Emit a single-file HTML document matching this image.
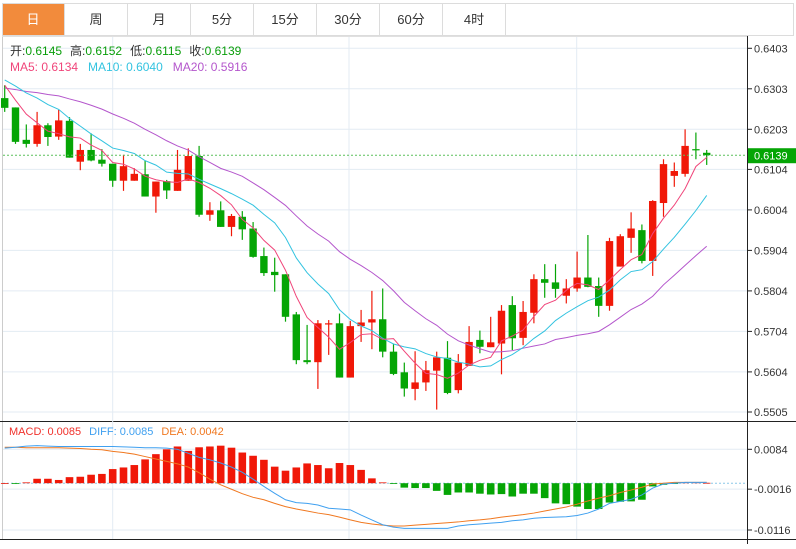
<!DOCTYPE html>
<html><head><meta charset="utf-8"><style>
body{margin:0;background:#fff;width:796px;height:544px;overflow:hidden;font-family:"Liberation Sans","Noto Sans CJK SC",sans-serif}
svg text{font-family:"Liberation Sans","Noto Sans CJK SC",sans-serif}
</style></head><body>
<svg id="c" width="796" height="544" xmlns="http://www.w3.org/2000/svg">
<g>
<rect x="2.5" y="3.5" width="791" height="32" fill="#fff" stroke="#dcdcdc"/>
<rect x="3" y="4" width="61" height="31" fill="#f28b3c"/>
<text x="33" y="24" font-size="13" fill="#fff" text-anchor="middle">日</text>
<text x="96" y="24" font-size="13" fill="#333" text-anchor="middle">周</text>
<text x="159" y="24" font-size="13" fill="#333" text-anchor="middle">月</text>
<text x="222" y="24" font-size="13" fill="#333" text-anchor="middle">5分</text>
<text x="285" y="24" font-size="13" fill="#333" text-anchor="middle">15分</text>
<text x="348" y="24" font-size="13" fill="#333" text-anchor="middle">30分</text>
<text x="411" y="24" font-size="13" fill="#333" text-anchor="middle">60分</text>
<text x="474" y="24" font-size="13" fill="#333" text-anchor="middle">4时</text>
<g stroke="#dcdcdc"><line x1="64.5" y1="4" x2="64.5" y2="35"/><line x1="127.5" y1="4" x2="127.5" y2="35"/><line x1="190.5" y1="4" x2="190.5" y2="35"/><line x1="253.5" y1="4" x2="253.5" y2="35"/><line x1="316.5" y1="4" x2="316.5" y2="35"/><line x1="379.5" y1="4" x2="379.5" y2="35"/><line x1="442.5" y1="4" x2="442.5" y2="35"/><line x1="505.5" y1="4" x2="505.5" y2="35"/></g>
</g>
<g id="grid"></g>
<g id="main"></g>
<g id="macd"></g>
<g font-size="12">
<text x="10" y="55"><tspan fill="#333">开:</tspan><tspan fill="#0a9e0a">0.6145</tspan><tspan fill="#333" dx="8">高:</tspan><tspan fill="#0a9e0a">0.6152</tspan><tspan fill="#333" dx="8">低:</tspan><tspan fill="#0a9e0a">0.6115</tspan><tspan fill="#333" dx="8">收:</tspan><tspan fill="#0a9e0a">0.6139</tspan></text>
<text x="10" y="71"><tspan fill="#f0457a">MA5: 0.6134</tspan><tspan fill="#33c3e0" dx="10">MA10: 0.6040</tspan><tspan fill="#b456cc" dx="10">MA20: 0.5916</tspan></text>
</g>
<g font-size="11">
<text x="9" y="435"><tspan fill="#f0302a">MACD: 0.0085</tspan><tspan fill="#3fa0f0" dx="8">DIFF: 0.0085</tspan><tspan fill="#f07820" dx="8">DEA: 0.0042</tspan></text>
</g>
</svg>
<script>
const prior=[0.6250,0.6260,0.6270,0.6280,0.6290,0.6285,0.6290,0.6300,0.6310,0.6315,0.6325,0.6335,0.6340,0.6345,0.6345,0.6357,0.6340,0.6320,0.6287];
const open=[0.6280,0.6257,0.6177,0.6167,0.6213,0.6185,0.6224,0.6123,0.6152,0.6128,0.6118,0.6076,0.6076,0.6092,0.6037,0.6075,0.6051,0.6076,0.6137,0.5992,0.6003,0.5962,0.5987,0.5958,0.5890,0.5851,0.5845,0.5746,0.5633,0.5628,0.5721,0.5724,0.5590,0.5717,0.5726,0.5734,0.5654,0.5603,0.5562,0.5578,0.5607,0.5639,0.5559,0.5619,0.5683,0.5665,0.5674,0.5769,0.5688,0.5750,0.5833,0.5825,0.5792,0.5810,0.5837,0.5816,0.5767,0.5864,0.5935,0.5954,0.5878,0.6021,0.6088,0.6093,0.6154,0.6145];
const high=[0.6312,0.6257,0.6215,0.6246,0.6218,0.6251,0.6233,0.6167,0.6193,0.6154,0.6118,0.6140,0.6107,0.6125,0.6074,0.6078,0.6152,0.6156,0.6162,0.6023,0.6025,0.5994,0.6001,0.5974,0.5911,0.5886,0.5845,0.5752,0.5720,0.5732,0.5732,0.5748,0.5730,0.5757,0.5804,0.5810,0.5674,0.5627,0.5655,0.5631,0.5654,0.5680,0.5648,0.5717,0.5706,0.5740,0.5769,0.5791,0.5779,0.5845,0.5870,0.5870,0.5833,0.5901,0.5942,0.5837,0.5935,0.5944,0.5998,0.5968,0.6028,0.6129,0.6121,0.6203,0.6195,0.6152];
const low=[0.6246,0.6167,0.6158,0.6160,0.6162,0.6177,0.6133,0.6102,0.6124,0.6111,0.6061,0.6051,0.6076,0.6037,0.5997,0.6031,0.6051,0.6076,0.5987,0.5977,0.5962,0.5939,0.5930,0.5886,0.5841,0.5802,0.5728,0.5623,0.5623,0.5562,0.5646,0.5590,0.5590,0.5678,0.5660,0.5640,0.5596,0.5543,0.5534,0.5557,0.5511,0.5549,0.5551,0.5619,0.5650,0.5665,0.5598,0.5658,0.5670,0.5724,0.5787,0.5787,0.5773,0.5802,0.5813,0.5740,0.5755,0.5864,0.5898,0.5872,0.5841,0.5987,0.6061,0.6086,0.6129,0.6115];
const close=[0.6256,0.6172,0.6167,0.6213,0.6184,0.6225,0.6133,0.6152,0.6126,0.6118,0.6076,0.6112,0.6093,0.6037,0.6074,0.6052,0.6103,0.6137,0.5992,0.6003,0.5962,0.5989,0.5956,0.5888,0.5848,0.5843,0.5740,0.5633,0.5628,0.5724,0.5724,0.5590,0.5717,0.5726,0.5734,0.5654,0.5599,0.5563,0.5578,0.5608,0.5640,0.5552,0.5627,0.5678,0.5666,0.5677,0.5755,0.5687,0.5752,0.5833,0.5824,0.5809,0.5810,0.5837,0.5814,0.5767,0.5927,0.5939,0.5958,0.5878,0.6026,0.6117,0.6100,0.6162,0.6151,0.6139];
const priceTicks=["0.6403","0.6303","0.6203","0.6104","0.6004","0.5904","0.5804","0.5704","0.5604","0.5505"];
const macdHist=[0,-0.0002,0.0002,0.0011,0.0011,0.0008,0.0015,0.0016,0.0021,0.0023,0.0035,0.0039,0.0045,0.0059,0.0072,0.0084,0.0091,0.0080,0.0089,0.0091,0.0093,0.0088,0.0076,0.0068,0.0058,0.0041,0.0031,0.0039,0.0049,0.0045,0.0037,0.0050,0.0045,0.0033,0.0012,0.0002,-0.0002,-0.0011,-0.0012,-0.0012,-0.0019,-0.0029,-0.0023,-0.0023,-0.0026,-0.0028,-0.0027,-0.0033,-0.0026,-0.0026,-0.0037,-0.0050,-0.0052,-0.0058,-0.0064,-0.0064,-0.0048,-0.0046,-0.0045,-0.0041,-0.0008,-0.0004,-0.0002,0.0002,0.0002,0.0001];
const diff=[0.0087,0.0089,0.0092,0.0093,0.0092,0.0091,0.0091,0.0091,0.0091,0.0091,0.0091,0.0090,0.0089,0.0088,0.0088,0.0087,0.0084,0.0074,0.0064,0.0058,0.0050,0.0040,0.0027,0.0010,-0.0008,-0.0025,-0.0041,-0.0048,-0.0050,-0.0054,-0.0062,-0.0064,-0.0066,-0.0079,-0.0091,-0.0103,-0.0109,-0.0112,-0.0112,-0.0112,-0.0112,-0.0112,-0.0106,-0.0103,-0.0101,-0.0099,-0.0097,-0.0093,-0.0091,-0.0087,-0.0085,-0.0084,-0.0083,-0.0080,-0.0074,-0.0064,-0.0050,-0.0045,-0.0040,-0.0029,-0.0012,-0.0002,0,0.0002,0.0002,0.0002];
const dea=[0.0089,0.0089,0.0088,0.0088,0.0088,0.0088,0.0087,0.0086,0.0084,0.0083,0.0079,0.0076,0.0072,0.0066,0.0060,0.0054,0.0048,0.0040,0.0026,0.0010,-0.0004,-0.0015,-0.0026,-0.0035,-0.0041,-0.0050,-0.0058,-0.0064,-0.0069,-0.0074,-0.0078,-0.0084,-0.0091,-0.0097,-0.0101,-0.0104,-0.0106,-0.0106,-0.0104,-0.0102,-0.0100,-0.0098,-0.0096,-0.0093,-0.0091,-0.0088,-0.0084,-0.0081,-0.0078,-0.0074,-0.0069,-0.0064,-0.0059,-0.0052,-0.0044,-0.0037,-0.0031,-0.0023,-0.0017,-0.0010,-0.0002,0,0.0002,0.0002,0.0002,0.0002];
const macdTicks=["0.0084","-0.0016","-0.0116"];

const NS="http://www.w3.org/2000/svg";
function mk(tag,attrs,parent){const e=document.createElementNS(NS,tag);for(const k in attrs)e.setAttribute(k,attrs[k]);parent.appendChild(e);return e;}
const xOf=i=>4.7+10.8*i;
const yP=v=>129.3+(0.6203-v)*4050;
const yM=v=>483.2-v*4035;
const RED="#f01808",GREEN="#05a505";
const grid=document.getElementById('grid'),main=document.getElementById('main'),mp=document.getElementById('macd');

// frame
let fr=mk('line',{x1:747.5,y1:36,x2:747.5,y2:544,stroke:'#222'},grid);


let l1=mk('line',{x1:2.5,y1:36,x2:2.5,y2:540,stroke:'#ccc'},grid);


let tb=mk('line',{x1:2,y1:36.5,x2:747,y2:36.5,stroke:'#e0e0e0'},grid);


let sep=mk('line',{x1:0,y1:421.5,x2:796,y2:421.5,stroke:'#222'},grid);


let bot=mk('line',{x1:0,y1:539.5,x2:796,y2:539.5,stroke:'#222'},grid);


[112.7,349,576.7].forEach(x=>{
 const g=mk('line',{x1:x,y1:37,x2:x,y2:539,stroke:'#e3ebf3'},grid);
 
 
});
priceTicks.forEach(t=>{
 const y=yP(parseFloat(t));
 const g=mk('line',{x1:3,y1:y,x2:747,y2:y,stroke:'#e3ebf3'},grid);
 
 
 mk('line',{x1:748,y1:y,x2:752,y2:y,stroke:'#222'},grid);
 const tx=mk('text',{x:754,y:y+4,'font-size':11,fill:'#333'},grid);
 tx.textContent=t;
 
 
});
macdTicks.forEach(t=>{
 const v=parseFloat(t);const y=(t==="-0.0016")?yM(v)-0.5:yM(v);
 const g=mk('line',{x1:3,y1:y,x2:747,y2:y,stroke:'#e3ebf3'},grid);
 
 
 mk('line',{x1:748,y1:y,x2:752,y2:y,stroke:'#222'},grid);
 const tx=mk('text',{x:754,y:y+4,'font-size':11,fill:'#333'},grid);
 tx.textContent=t;
 
 
});

// candles
for(let i=0;i<close.length;i++){
 const up=close[i]>=open[i];const col=up?RED:GREEN;const x=xOf(i);
 const g=mk('g',{},main);
 
 
 mk('line',{x1:x,y1:yP(high[i]),x2:x,y2:yP(low[i]),stroke:col,'stroke-width':1.2},g);
 const t=yP(Math.max(open[i],close[i])),b=yP(Math.min(open[i],close[i]));
 mk('rect',{x:x-3.7,y:t,width:7.4,height:Math.max(1.2,b-t),fill:col},g);
}
// MAs
const all=prior.concat(close);
function ma(n){const r=[];for(let i=0;i<close.length;i++){let s=0;const j=i+prior.length;for(let k=0;k<n;k++)s+=all[j-k];r.push(s/n);}return r;}
[[20,'#b456cc','ma20-line'],[10,'#33c3e0','ma10-line'],[5,'#f0457a','ma5-line']].forEach(([n,c,nm])=>{
 const m=ma(n);const pts=m.map((v,i)=>xOf(i)+','+yP(v)).join(' ');
 const p=mk('polyline',{points:pts,fill:'none',stroke:c,'stroke-width':1},main);
 
 
});
// last price
const lastC=close[close.length-1];const ly=yP(lastC);
const dl=mk('line',{x1:3,y1:ly,x2:747,y2:ly,stroke:'#5cc05c','stroke-dasharray':'2,2'},main);


const lb=mk('rect',{x:748,y:ly-7,width:48,height:15,fill:'#05a505'},main);


const lt=mk('text',{x:754,y:ly+4.5,'font-size':11,fill:'#fff'},main);
lt.textContent=lastC.toFixed(4);



// MACD
const z=mk('line',{x1:3,y1:yM(0),x2:747,y2:yM(0),stroke:'#8cc8e8','stroke-dasharray':'2,2'},mp);


macdHist.forEach((v,i)=>{
 const y0=yM(0),y1=yM(v);
 const r=mk('rect',{x:xOf(i)-3.8,y:Math.min(y0,y1),width:7.6,height:Math.max(0.8,Math.abs(y1-y0)),fill:v>=0?RED:GREEN},mp);
 
 
});
const dp=mk('polyline',{points:dea.map((v,i)=>xOf(i)+','+yM(v)).join(' '),fill:'none',stroke:'#f07820','stroke-width':1},mp);


const fp=mk('polyline',{points:diff.map((v,i)=>xOf(i)+','+yM(v)).join(' '),fill:'none',stroke:'#3fa0f0','stroke-width':1},mp);


</script>
</body></html>
